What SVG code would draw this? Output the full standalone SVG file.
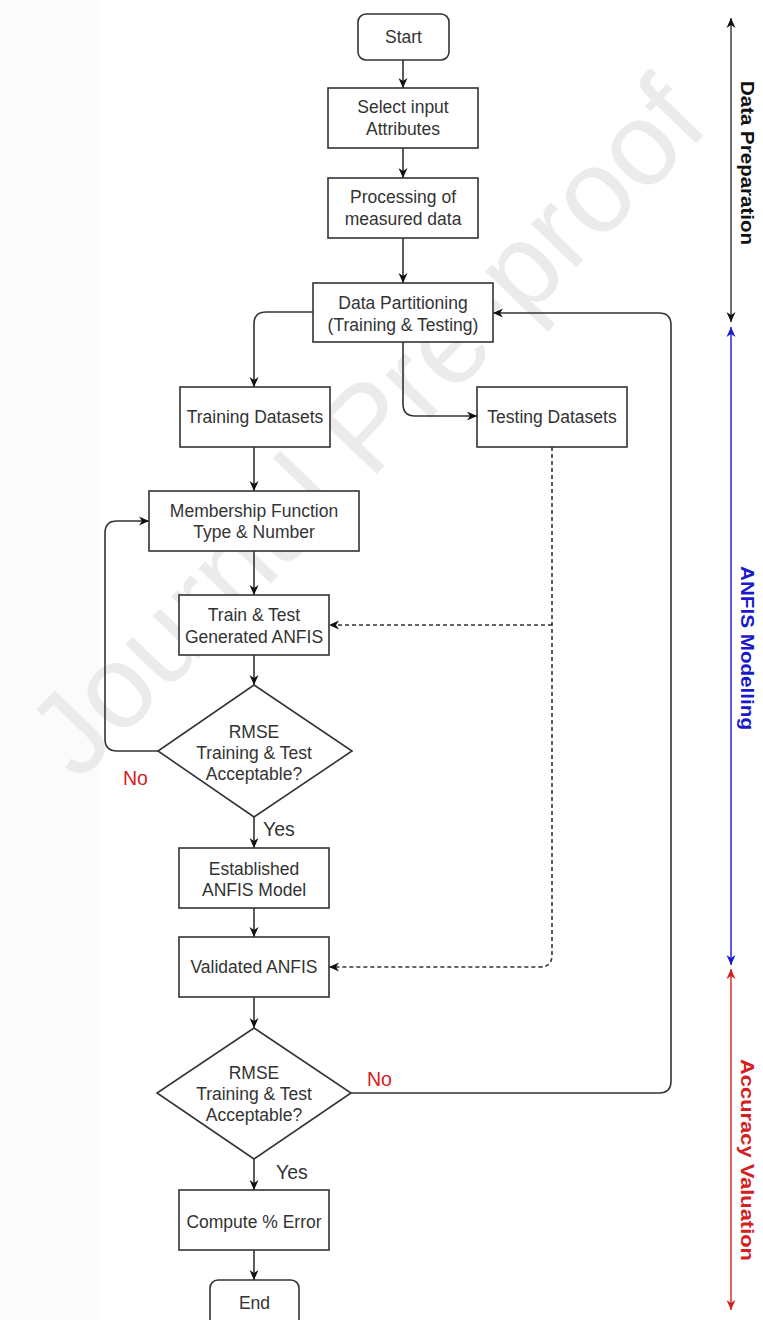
<svg xmlns="http://www.w3.org/2000/svg" width="763" height="1320" viewBox="0 0 763 1320">
<style>
.box{fill:#fff;stroke:#333;stroke-width:1.6}
.t{font-family:"Liberation Sans",Arial,sans-serif;font-size:17.5px;fill:#333;text-anchor:middle}
.lbl{font-family:"Liberation Sans",Arial,sans-serif;font-size:19.5px}
.c{fill:none;stroke:#333;stroke-width:1.6}
.d{fill:none;stroke:#333;stroke-width:1.6;stroke-dasharray:4 3}
.side{font-family:"Liberation Sans",Arial,sans-serif;font-size:18px;font-weight:bold;text-anchor:middle}
.wm{font-family:"Liberation Sans",Arial,sans-serif;font-size:118px;fill:#ebebeb;text-anchor:middle}
</style>
<defs>
<marker id="a" markerUnits="userSpaceOnUse" markerWidth="11" markerHeight="10" refX="10" refY="5" orient="auto-start-reverse"><path d="M0,0.5 L10,5 L0,9.5 L3,5 z" fill="#111"/></marker>
<marker id="ab" markerUnits="userSpaceOnUse" markerWidth="11" markerHeight="10" refX="10" refY="5" orient="auto-start-reverse"><path d="M0,0.5 L10,5 L0,9.5 L3,5 z" fill="#1a1acc"/></marker>
<marker id="ar" markerUnits="userSpaceOnUse" markerWidth="11" markerHeight="10" refX="10" refY="5" orient="auto-start-reverse"><path d="M0,0.5 L10,5 L0,9.5 L3,5 z" fill="#d42020"/></marker>
</defs>
<rect x="0" y="0" width="763" height="1320" fill="#fff"/>
<rect x="0" y="0" width="100" height="1320" fill="#fbfbfb"/>
<text class="wm" transform="translate(395,455) rotate(-46)">Journal Pre-proof</text>

<g id="connectors">
<path class="c" d="M403,60 V88" marker-end="url(#a)"/>
<path class="c" d="M403,148 V178" marker-end="url(#a)"/>
<path class="c" d="M403,238 V283" marker-end="url(#a)"/>
<path class="c" d="M313,312 H266 Q254,312 254,324 V387" marker-end="url(#a)"/>
<path class="c" d="M403,342 V404 Q403,416 415,416 H477" marker-end="url(#a)"/>
<path class="c" d="M254,447 V491" marker-end="url(#a)"/>
<path class="c" d="M254,551 V595" marker-end="url(#a)"/>
<path class="c" d="M254,655 V685" marker-end="url(#a)"/>
<path class="c" d="M158,751 H117 Q105,751 105,739 V533 Q105,521 117,521 H149" marker-end="url(#a)"/>
<path class="c" d="M254,817 V848" marker-end="url(#a)"/>
<path class="c" d="M254,908 V937" marker-end="url(#a)"/>
<path class="c" d="M254,997 V1028" marker-end="url(#a)"/>
<path class="c" d="M351,1093 H659 Q671,1093 671,1081 V325 Q671,313 659,313 H493" marker-end="url(#a)"/>
<path class="c" d="M254,1159 V1190" marker-end="url(#a)"/>
<path class="c" d="M254,1250 V1280" marker-end="url(#a)"/>
<path class="d" d="M552,447 V955 Q552,967 540,967 H329" marker-end="url(#a)"/>
<path class="d" d="M552,625 H329" marker-end="url(#a)"/>
<text class="lbl" x="123" y="785" fill="#d42020">No</text>
<text class="lbl" x="263" y="836" fill="#333">Yes</text>
<text class="lbl" x="367" y="1086" fill="#d42020">No</text>
<text class="lbl" x="276" y="1179" fill="#333">Yes</text>
</g>

<g id="phases">
<path d="M731,18 V322" stroke="#333" stroke-width="1.4" fill="none" marker-start="url(#a)" marker-end="url(#a)"/>
<path d="M731,327 V965" stroke="#1a1acc" stroke-width="1.4" fill="none" marker-start="url(#ab)" marker-end="url(#ab)"/>
<path d="M731,969 V1310" stroke="#d42020" stroke-width="1.4" fill="none" marker-start="url(#ar)" marker-end="url(#ar)"/>
<text class="side" fill="#111" transform="translate(741,163) rotate(90)" textLength="164" lengthAdjust="spacingAndGlyphs">Data Preparation</text>
<text class="side" fill="#1a1acc" transform="translate(741,648) rotate(90)" textLength="164" lengthAdjust="spacingAndGlyphs">ANFIS Modelling</text>
<text class="side" fill="#d42020" transform="translate(741,1160) rotate(90)" textLength="202" lengthAdjust="spacingAndGlyphs">Accuracy Valuation</text>
</g>

<g id="start"><rect class="box" x="358" y="14" width="91" height="46" rx="8"/><text class="t" x="403.5" y="43">Start</text></g>
<g id="select"><rect class="box" x="328" y="88" width="150" height="60"/><text class="t" x="403" y="113">Select input</text><text class="t" x="403" y="135">Attributes</text></g>
<g id="processing"><rect class="box" x="328" y="178" width="150" height="60"/><text class="t" x="403" y="203">Processing of</text><text class="t" x="403" y="225">measured data</text></g>
<g id="partition"><rect class="box" x="313" y="283" width="180" height="59"/><text class="t" x="403" y="309">Data Partitioning</text><text class="t" x="403" y="331">(Training &amp; Testing)</text></g>
<g id="training"><rect class="box" x="180" y="387" width="150" height="60"/><text class="t" x="255" y="423">Training Datasets</text></g>
<g id="testing"><rect class="box" x="477" y="387" width="150" height="60"/><text class="t" x="552" y="423">Testing Datasets</text></g>
<g id="membership"><rect class="box" x="149" y="491" width="210" height="60"/><text class="t" x="254" y="517">Membership Function</text><text class="t" x="254" y="538">Type &amp; Number</text></g>
<g id="traintest"><rect class="box" x="179" y="595" width="150" height="60"/><text class="t" x="254" y="621">Train &amp; Test</text><text class="t" x="254" y="643">Generated ANFIS</text></g>
<g id="decision1"><polygon class="box" points="254,685 352,751 254,817 158,751"/><text class="t" x="254" y="738">RMSE</text><text class="t" x="254" y="759">Training &amp; Test</text><text class="t" x="254" y="780">Acceptable?</text></g>
<g id="established"><rect class="box" x="179" y="848" width="150" height="60"/><text class="t" x="254" y="875">Established</text><text class="t" x="254" y="896">ANFIS Model</text></g>
<g id="validated"><rect class="box" x="179" y="937" width="150" height="60"/><text class="t" x="254" y="973">Validated ANFIS</text></g>
<g id="decision2"><polygon class="box" points="254,1028 351,1093 254,1159 157,1093"/><text class="t" x="254" y="1079">RMSE</text><text class="t" x="254" y="1100">Training &amp; Test</text><text class="t" x="254" y="1121">Acceptable?</text></g>
<g id="compute"><rect class="box" x="179" y="1190" width="150" height="60"/><text class="t" x="254" y="1228">Compute % Error</text></g>
<g id="end"><rect class="box" x="210" y="1280" width="89" height="50" rx="8"/><text class="t" x="254.5" y="1309">End</text></g>
</svg>
